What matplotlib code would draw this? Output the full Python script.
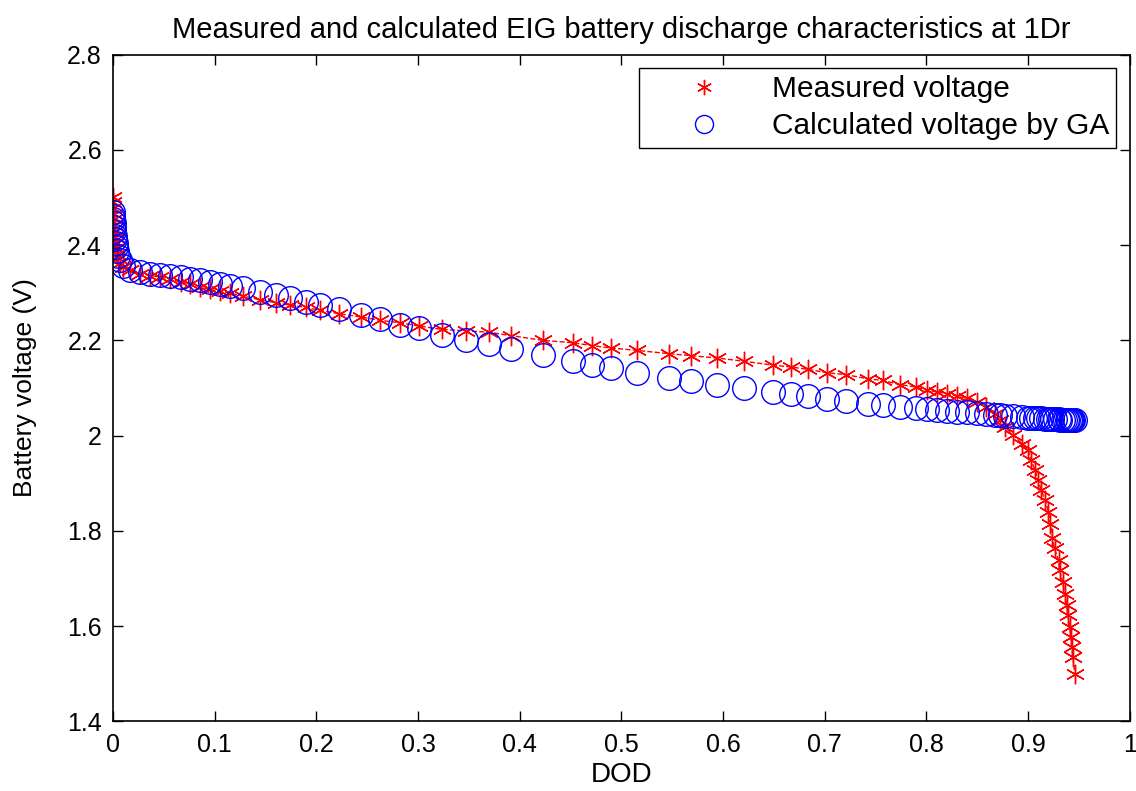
import numpy as np
import matplotlib
matplotlib.use("Agg")
import matplotlib.pyplot as plt
from matplotlib.lines import Line2D
from matplotlib.ticker import FuncFormatter

plt.rcParams['font.family'] = ['Liberation Sans', 'DejaVu Sans']

# depth of discharge points (shared by both series)
dod = [0.000, 0.000, 0.000, 0.001, 0.001, 0.001, 0.002, 0.002, 0.003, 0.003,
       0.004, 0.005, 0.007, 0.010, 0.017, 0.027, 0.036, 0.046, 0.056, 0.067,
       0.076, 0.086, 0.095, 0.105, 0.115, 0.128, 0.145, 0.160, 0.174, 0.190,
       0.204, 0.222, 0.244, 0.263, 0.282, 0.301, 0.324, 0.347, 0.370, 0.391,
       0.423, 0.452, 0.471, 0.490, 0.515, 0.547, 0.568, 0.594, 0.621, 0.649,
       0.667, 0.684, 0.702, 0.721, 0.743, 0.757, 0.774, 0.790, 0.801, 0.810,
       0.820, 0.830, 0.840, 0.850, 0.859, 0.867, 0.872, 0.877, 0.885, 0.894,
       0.900, 0.903, 0.907, 0.910, 0.913, 0.917, 0.920, 0.922, 0.924, 0.926,
       0.930, 0.931, 0.934, 0.936, 0.938, 0.939, 0.941, 0.942, 0.943, 0.944,
       0.946]

measured = [2.500, 2.490, 2.478, 2.466, 2.454, 2.442, 2.430, 2.418, 2.406, 2.394,
            2.382, 2.372, 2.362, 2.354, 2.347, 2.340, 2.336, 2.333, 2.329, 2.322,
            2.319, 2.312, 2.307, 2.303, 2.299, 2.293, 2.285, 2.279, 2.274, 2.269,
            2.263, 2.256, 2.249, 2.242, 2.237, 2.230, 2.223, 2.220, 2.217, 2.210,
            2.200, 2.195, 2.189, 2.184, 2.179, 2.172, 2.168, 2.163, 2.156, 2.148,
            2.144, 2.139, 2.132, 2.128, 2.119, 2.116, 2.107, 2.102, 2.095, 2.092,
            2.088, 2.083, 2.078, 2.071, 2.060, 2.046, 2.032, 2.018, 2.002, 1.983,
            1.969, 1.948, 1.927, 1.906, 1.885, 1.864, 1.840, 1.815, 1.784, 1.763,
            1.738, 1.717, 1.693, 1.668, 1.644, 1.623, 1.598, 1.578, 1.557, 1.536,
            1.500]

calculated = [2.470, 2.462, 2.454, 2.446, 2.438, 2.430, 2.420, 2.412, 2.404, 2.396,
              2.388, 2.378, 2.368, 2.356, 2.348, 2.343, 2.340, 2.337, 2.335, 2.332,
              2.329, 2.326, 2.322, 2.319, 2.315, 2.310, 2.302, 2.296, 2.289, 2.281,
              2.275, 2.265, 2.254, 2.244, 2.232, 2.225, 2.212, 2.200, 2.192, 2.181,
              2.169, 2.156, 2.148, 2.141, 2.131, 2.120, 2.115, 2.107, 2.100, 2.092,
              2.087, 2.084, 2.076, 2.072, 2.067, 2.064, 2.060, 2.057, 2.055, 2.053,
              2.051, 2.050, 2.049, 2.048, 2.046, 2.044, 2.043, 2.042, 2.041, 2.039,
              2.038, 2.037, 2.037, 2.036, 2.036, 2.035, 2.035, 2.035, 2.034, 2.034,
              2.034, 2.033, 2.033, 2.033, 2.033, 2.032, 2.032, 2.032, 2.032, 2.032,
              2.032]

fig = plt.figure(figsize=(11.36, 7.91), dpi=100)
ax = fig.add_axes([0.0995, 0.088, 0.895, 0.843])

ax.plot(dod, measured, color='red', linestyle='--', linewidth=1.0,
        marker=(6, 2, 0), markersize=14, markeredgewidth=1.0)
ax.plot(dod, calculated, linestyle='none', marker='o', markersize=17,
        markerfacecolor='none', markeredgecolor='blue', markeredgewidth=1.0)

ax.set_xlim(0, 1)
ax.set_ylim(1.4, 2.8)
ax.set_xticks(np.arange(0, 1.01, 0.1))
ax.set_yticks(np.arange(1.4, 2.81, 0.2))
fmt = FuncFormatter(lambda v, p: '%g' % round(v, 2))
ax.xaxis.set_major_formatter(fmt)
ax.yaxis.set_major_formatter(fmt)
ax.tick_params(direction='in', length=7, width=1, top=True, right=True,
               labelsize=18, pad=8)
for s in ax.spines.values():
    s.set_linewidth(1.2)

ax.set_title('Measured and calculated EIG battery discharge characteristics at 1Dr',
             fontsize=21, pad=12)
ax.set_xlabel('DOD', fontsize=20, labelpad=4)
ax.set_ylabel('Battery voltage (V)', fontsize=19, labelpad=22)

# legend shows markers only, like the original
handles = [
    Line2D([], [], color='red', linestyle='none', marker=(6, 2, 0),
           markersize=11, markeredgewidth=1.0),
    Line2D([], [], linestyle='none', marker='o', markersize=13,
           markerfacecolor='none', markeredgecolor='blue', markeredgewidth=1.0),
]
labels = ['Measured voltage', 'Calculated voltage by GA']
leg = ax.legend(handles, labels, loc='upper right', fontsize=21.5, fancybox=False,
                framealpha=1, edgecolor='black', handlelength=3.9,
                borderaxespad=0.45, borderpad=0.25, labelspacing=0.3,
                handletextpad=0.3, numpoints=1)
leg.get_frame().set_linewidth(1.0)

fig.savefig('out.png', dpi=100)
